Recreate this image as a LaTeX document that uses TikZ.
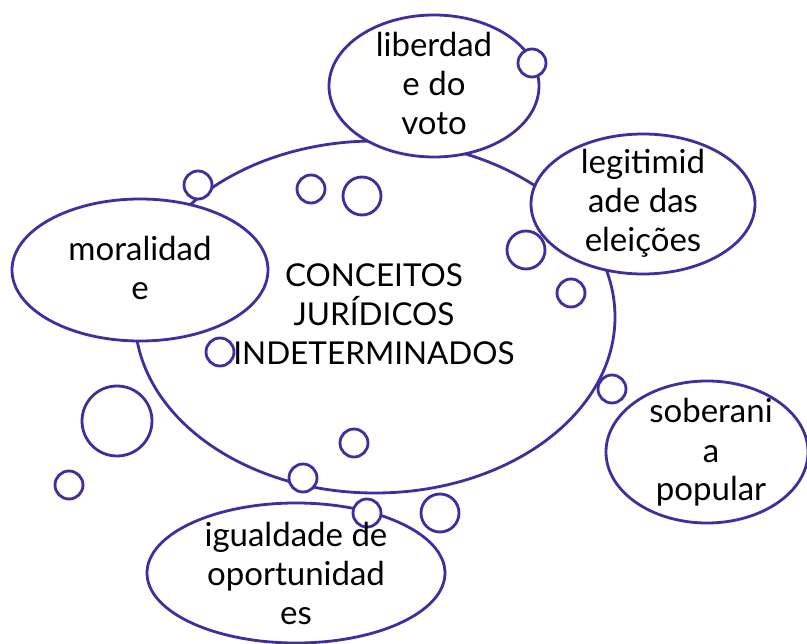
\documentclass[tikz,border=0pt]{standalone}
\usepackage{fontspec}
\setmainfont{Lato}
\usetikzlibrary{shapes.geometric}
\definecolor{bubble}{RGB}{62,46,158}
\begin{document}
\begin{tikzpicture}[x=1pt,y=-1pt,
  bline/.style={draw=bubble, line width=2.8pt, fill=white},
  oval/.style={bline, ellipse, inner sep=0pt, outer sep=0pt},
  dot/.style={bline, circle, inner sep=0pt, outer sep=0pt},
  lbl/.style={anchor=base, align=center, font=\fontsize{33}{39}\selectfont, text=black, inner sep=0pt},
  capslbl/.style={lbl, font=\fontsize{31.5}{39}\selectfont}]
\useasboundingbox (0,0) rectangle (807,644);
% central bubble
\node[oval, minimum width=480pt, minimum height=352pt] (main) at (375,317) {};
% small circles
\node[dot, minimum size=28pt] (c2) at (198,185) {};
\node[dot, minimum size=28pt] (c3) at (311,189) {};
\node[dot, minimum size=38pt] (c4) at (362,196) {};
\node[dot, minimum size=38pt] (c5) at (526,250) {};
\node[dot, minimum size=28pt] (c6) at (571,293) {};
\node[dot, minimum size=28pt] (c7) at (220,352) {};
\node[dot, minimum size=28pt] (c8) at (612,389) {};
\node[dot, minimum size=70pt] (c9) at (117,421) {};
\node[dot, minimum size=28pt] (c10) at (354,443) {};
\node[dot, minimum size=28pt] (c11) at (69,485) {};
\node[dot, minimum size=28pt] (c12) at (303,478) {};
\node[dot, minimum size=38pt] (c14) at (440,513) {};
% outer bubbles
\node[oval, minimum width=210pt, minimum height=142pt] (lib) at (434,86) {};
\node[oval, minimum width=224pt, minimum height=140pt] (leg) at (643,204) {};
\node[oval, minimum width=256pt, minimum height=142pt] (mor) at (140,270) {};
\node[oval, minimum width=202pt, minimum height=142pt] (sob) at (707,452) {};
\node[oval, minimum width=298pt, minimum height=140pt] (igu) at (296,573) {};
\node[dot, minimum size=28pt] (c1) at (532,63) {};
\node[dot, minimum size=28pt] (c13) at (367,513) {};
% labels (anchor = baseline of last line)
\node[capslbl] (tmain) at (374,365) {CONCEITOS\\JURÍDICOS\\INDETERMINADOS};
\node[lbl] (tlib) at (434,135) {liberdad\\e do\\voto};
\node[lbl] (tleg) at (643,252) {legitimid\\ade das\\eleições};
\node[lbl] (tmor) at (140,300) {moralidad\\e};
\node[lbl] (tsob) at (711,501) {soberani\\a\\popular};
\node[lbl] (tigu) at (296,624) {igualdade de\\oportunidad\\es};
\end{tikzpicture}
\end{document}
